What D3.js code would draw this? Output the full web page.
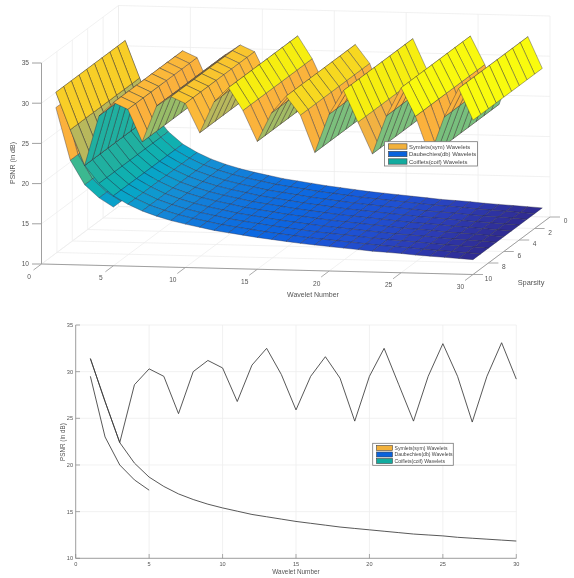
<!DOCTYPE html>
<html><head><meta charset="utf-8">
<script src="https://cdn.jsdelivr.net/npm/d3@7"></script>
<style>html,body{margin:0;padding:0;background:#fff}svg{display:block;filter:blur(0.4px)}text{font-family:"Liberation Sans",Arial,sans-serif;fill:#555}</style>
</head><body><svg id="c" width="574" height="578"></svg>
<script>
const waveletNumbers=d3.range(1,31);
const sparsityLevels=d3.range(1,11);
const symValues=[31.4,26.8,22.4,28.6,30.3,29.5,25.5,30,31.2,30.4,26.8,30.7,32.5,29.7,25.9,29.5,31.6,29.3,24.7,29.5,32.5,28.6,24.7,29.5,33,29.5,24.6,29.5,33.1,29.2];
const dbValues=[31.4,26.8,22.4,20.2,18.7,17.7,16.9,16.3,15.8,15.4,15.05,14.7,14.45,14.2,13.95,13.75,13.55,13.35,13.2,13.05,12.9,12.75,12.6,12.5,12.4,12.25,12.15,12.05,11.95,11.85];
const coifValues=[29.5,23,20,18.4,17.3];
const legendNames=["Symlets(sym) Wavelets","Daubechies(db) Wavelets","Coiflets(coif) Wavelets"];
const legendColors=["#f2b13c","#0a62dc","#12ab9f"];
const zTicks=[10,15,20,25,30,35];
const xTicks=[0,5,10,15,20,25,30];
const sTicks=[0,2,4,6,8,10];
const colorZ=[11.85,12.4,13,14,15.4,17,18.7,20.2,22.4,23,24.7,25.5,26.8,28.6,29.5,30.3,31.2,31.6,32.5,33.1];
const colorStops=["#30298c","#2c3cb5","#1f50d2","#0c66e2","#1178dc","#1490d4","#08a5c8","#10b0b0","#20b0a0","#3cb890","#7cbf7c","#98bc68","#b8b85c","#f2b242","#fbb13c","#fbb83a","#f9c52e","#f7d820","#f6ee10","#f9fb0e"];

const svg=d3.select("#c");
const gridC="#eeeeee",axisC="#a0a0a0";
const xH=d3.scaleLinear([0,30],[0,431.5]), xV=d3.scaleLinear([0,30],[0,10.5]);
const sH=d3.scaleLinear([10,0],[0,77]), sV=d3.scaleLinear([10,0],[0,-57.5]);
const zV=d3.scaleLinear([10,35],[0,-201]);
const px=(x,s)=>41.5+xH(x)+sH(s);
const py=(x,s,z)=>264+xV(x)+sV(s)+zV(z);
const P=(x,s,z)=>[px(x,s),py(x,s,z)];
const g3=svg.append("g");
const seg=(g,a,b,c,w)=>g.append("line").attr("x1",a[0]).attr("y1",a[1]).attr("x2",b[0]).attr("y2",b[1]).attr("stroke",c).attr("stroke-width",w);
zTicks.forEach(z=>{seg(g3,P(0,10,z),P(0,0,z),gridC,.8);seg(g3,P(0,0,z),P(30,0,z),gridC,.8);});
xTicks.forEach(x=>{seg(g3,P(x,0,10),P(x,0,35),gridC,.8);seg(g3,P(x,10,10),P(x,0,10),gridC,.8);});
sTicks.forEach(s=>{seg(g3,P(0,s,10),P(0,s,35),gridC,.8);seg(g3,P(0,s,10),P(30,s,10),gridC,.8);});
seg(g3,P(0,10,10),P(0,10,35),axisC,1);
seg(g3,P(0,10,10),P(30,10,10),axisC,1);
seg(g3,P(30,10,10),P(30,0,10),axisC,1);
const txt=(g,x,y,t,size,anchor,rot)=>{const e=g.append("text").attr("font-size",size).attr("text-anchor",anchor||"middle").text(t);
 if(rot)e.attr("transform",`translate(${x},${y}) rotate(${rot})`);else e.attr("x",x).attr("y",y);return e;};
zTicks.forEach(z=>{const p=P(0,10,z);seg(g3,[p[0]-9.5,p[1]],p,axisC,1);txt(g3,p[0]-12.5,p[1]+2.3,z,6.6,"end");});
xTicks.forEach(x=>{const p=P(x,10,10);seg(g3,p,[p[0]-8,p[1]+6],axisC,.9);txt(g3,p[0]-12.5,p[1]+14.5,x,6.6);});
sTicks.forEach(s=>{const p=P(30,s,10);seg(g3,p,[p[0]+10,p[1]],axisC,.9);txt(g3,p[0]+15.5,p[1]+6,s,6.6);});
txt(g3,15,163,"PSNR (in dB)",7,"middle",-90);
txt(g3,313,296.5,"Wavelet Number",7);
txt(g3,531,285,"Sparsity",7.4);
const color=d3.scaleLinear().domain(colorZ).range(colorStops).clamp(true);
const quads=[];
[coifValues,dbValues,symValues].forEach((vals,k)=>{
  for(let i=0;i<vals.length-1;i++)for(let j=0;j<sparsityLevels.length-1;j++){
    const x0=waveletNumbers[i],x1=waveletNumbers[i+1],s0=sparsityLevels[j],s1=sparsityLevels[j+1];
    const xc=(x0+x1)/2,sc=(s0+s1)/2,zc=(vals[i]+vals[i+1])/2;
    quads.push({pts:[P(x0,s0,vals[i]),P(x1,s0,vals[i+1]),P(x1,s1,vals[i+1]),P(x0,s1,vals[i])],
      f:color(vals[i]),d:.99*(2.5*xc+43*sc)+1.09*zc+k*.01});
  }
});
quads.sort((a,b)=>a.d-b.d);
g3.append("g").selectAll("path").data(quads).join("path")
 .attr("d",q=>"M"+q.pts.join("L")+"Z").attr("fill",q=>q.f).attr("stroke","#2a2a40").attr("stroke-width",.38).attr("stroke-linejoin","round");
function legend(g,x0,y0,w,h,swX,swW,swH,txtX,rows,fs){
  g.append("rect").attr("x",x0).attr("y",y0).attr("width",w).attr("height",h).attr("fill","#fff").attr("stroke","#777").attr("stroke-width",.8);
  legendNames.forEach((n,i)=>{
    g.append("rect").attr("x",swX).attr("y",rows[i]-swH/2).attr("width",swW).attr("height",swH).attr("fill",legendColors[i]).attr("stroke","#444").attr("stroke-width",.6);
    txt(g,txtX,rows[i]+fs*.35,n,fs,"start").style("fill","#444");
  });
}
legend(g3,384.5,141.7,93,24.3,388.5,18.5,5.4,409,[146.5,154,161.5],5.9);
const gx=d3.scaleLinear([0,30],[75.7,516.3]), gy=d3.scaleLinear([10,35],[558.3,325]);
const g2=svg.append("g");
xTicks.forEach(x=>seg(g2,[gx(x),325],[gx(x),558.3],gridC,.8));
zTicks.forEach(z=>seg(g2,[75.7,gy(z)],[516.3,gy(z)],gridC,.8));
seg(g2,[75.7,325],[75.7,558.3],axisC,1);
seg(g2,[75.7,558.3],[516.3,558.3],axisC,1);
xTicks.forEach(x=>{seg(g2,[gx(x),558.3],[gx(x),554],"#888",.7);txt(g2,gx(x),566,x,5.6);});
zTicks.forEach(z=>{seg(g2,[75.7,gy(z)],[80,gy(z)],"#888",.7);txt(g2,73,gy(z)+2,z,5.6,"end");});
txt(g2,296,573.5,"Wavelet Number",6.4);
txt(g2,64.5,442,"PSNR (in dB)",6.3,"middle",-90);
const line=d3.line().x((d,i)=>gx(waveletNumbers[i])).y(d=>gy(d));
[symValues,dbValues,coifValues].forEach(v=>g2.append("path").attr("d",line(v)).attr("fill","none").attr("stroke","#3a3a3a").attr("stroke-width",.85));
legend(g2,372.7,443.3,80.6,22,376.5,16,5,394.5,[448,454.5,461],5.1);
</script></body></html>
